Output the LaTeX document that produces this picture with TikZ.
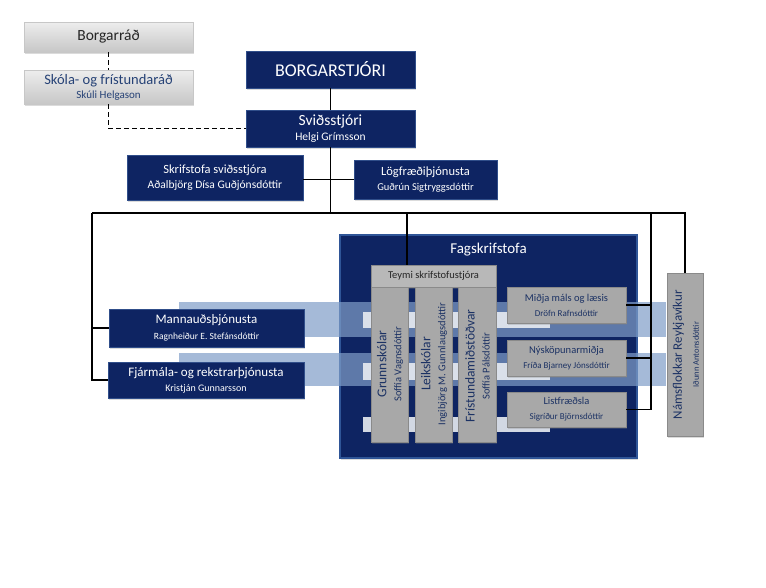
\documentclass[tikz,border=0pt]{standalone}
\usepackage{fontspec}
\setmainfont{Carlito}
\usetikzlibrary{shadows}
\definecolor{navy}{RGB}{14,36,98}
\definecolor{navyborder}{RGB}{48,78,138}
\definecolor{fagborder}{RGB}{47,85,151}
\definecolor{boxgray}{RGB}{168,168,168}
\definecolor{graybord}{RGB}{138,138,138}
\definecolor{bandblue}{RGB}{128,158,200}
\definecolor{graytext}{RGB}{28,50,100}
\definecolor{skolablue}{RGB}{38,66,118}
\definecolor{stripe}{RGB}{232,236,242}
\newcommand\fsz[1]{\fontsize{#1}{#1}\selectfont}
\tikzset{
  shd/.style={drop shadow={opacity=0.28, shadow xshift=1.2pt, shadow yshift=-2pt}},
  navybox/.style={draw=navyborder, line width=0.7pt, fill=navy, text=white,
    align=center, inner sep=0pt, shd},
  lightbox/.style={draw=white!78!black, line width=0.5pt, top color=white!93!black,
    bottom color=white!78!black, align=center, inner sep=0pt, shd},
  graybox/.style={draw=graybord, line width=0.6pt, fill=boxgray, text=graytext,
    align=center, inner sep=0pt, shd},
  conn/.style={draw=black, line width=1.1pt},
  dconn/.style={draw=black, line width=1.9pt, dash pattern=on 5pt off 3pt},
  band/.style={fill=bandblue, fill opacity=0.7, draw=none},
  stripebox/.style={fill=stripe, fill opacity=0.9, draw=none},
  coltext/.style={rotate=90, align=center, text=graytext, inner sep=0pt}
}
\begin{document}
\begin{tikzpicture}[x=1pt,y=-1pt]
\useasboundingbox[fill=white] (0,0) rectangle (766,587);

% top left council boxes
\node[lightbox, minimum width=169pt, minimum height=30pt, text=black!85] (borgarrad) at (108.5,37) {\fsz{15.5}Borgarráð};
\node[lightbox, minimum width=169pt, minimum height=34pt, text=skolablue] (skola) at (108.5,87)
  {\fsz{14.5}Skóla- og frístundaráð\\[2pt]\fsz{11}Skúli Helgason};

% top navy boxes
\node[navybox, minimum width=169pt, minimum height=37pt] (borgarstjori) at (330.5,69.5) {\fsz{18}BORGARSTJÓRI};
\node[navybox, minimum width=169pt, minimum height=37pt] (svid) at (330.5,128.5)
  {\fsz{15.5}Sviðsstjóri\\[3pt]\fsz{11.5}Helgi Grímsson};
\node[navybox, minimum width=176pt, minimum height=45pt] (skrif) at (215,177.5)
  {\fsz{12.5}Skrifstofa sviðsstjóra\\[2.5pt]\fsz{11.5}Aðalbjörg Dísa Guðjónsdóttir};
\node[navybox, minimum width=143pt, minimum height=39pt] (log) at (425.5,179.5)
  {\fsz{12.5}Lögfræðiþjónusta\\[2.5pt]\fsz{10.5}Guðrún Sigtryggsdóttir};

% Fagskrifstofa
\node[draw=fagborder, line width=1.6pt, fill=navy, inner sep=0pt, minimum width=297pt, minimum height=223pt, shd] (fag) at (488.5,346.5) {};
\node[text=white, inner sep=0pt] (fagtitle) at (488.5,250) {\fsz{15}Fagskrifstofa};

% bands and stripes
\path[band] (179,302) rectangle (666,337);
\path[band] (179,353) rectangle (666,386);
\path[stripebox] (363,312) rectangle (550,328);
\path[stripebox] (363,363) rectangle (550,380);
\path[stripebox] (363,417) rectangle (550,432);

% inner boxes
\node[graybox, fill=white!72!black, text=black!85, minimum width=125pt, minimum height=22pt] (teymi) at (433.5,276) {\fsz{10.5}Teymi skrifstofustjóra};
\node[graybox, minimum width=37pt, minimum height=155pt] (grunn) at (389.5,364.5) {};
\node[graybox, minimum width=37pt, minimum height=155pt] (leik) at (433.5,364.5) {};
\node[graybox, minimum width=38pt, minimum height=155pt] (fris) at (477,364.5) {};
\node[coltext] (grunnt) at (390,364) {\fsz{13.5}Grunnskólar\\[3pt]\fsz{10.5}Soffía Vagnsdóttir};
\node[coltext] (leikt) at (434,364) {\fsz{13.5}Leikskólar\\[3pt]\fsz{10.5}Ingibjörg M. Gunnlaugsdóttir};
\node[coltext] (frist) at (477.5,366) {\fsz{13.5}Frístundamiðstöðvar\\[3pt]\fsz{10.5}Soffía Pálsdóttir};

\node[graybox, minimum width=119pt, minimum height=36pt] (midja) at (566.5,305)
  {\fsz{10.5}Miðja máls og læsis\\[3pt]\fsz{9}Dröfn Rafnsdóttir};
\node[graybox, minimum width=119pt, minimum height=36pt] (nysk) at (566.5,358)
  {\fsz{10.5}Nýsköpunarmiðja\\[3pt]\fsz{9}Fríða Bjarney Jónsdóttir};
\node[graybox, minimum width=119pt, minimum height=35pt] (listf) at (566.5,409.5)
  {\fsz{10.5}Listfræðsla\\[3pt]\fsz{9}Sigríður Björnsdóttir};

\node[graybox, minimum width=36pt, minimum height=163pt] (nams) at (685,354.5) {};
\node[coltext] (namst) at (686,354.5) {\fsz{13}Námsflokkar Reykjavíkur\\[5pt]\fsz{8.5}Iðunn Antonsdóttir};

% left boxes
\node[navybox, minimum width=195pt, minimum height=38pt] (mann) at (206.5,328)
  {\fsz{13}Mannauðsþjónusta\\[3.5pt]\fsz{9.5}Ragnheiður E. Stefánsdóttir};
\node[navybox, minimum width=196pt, minimum height=36pt] (fjar) at (206,380)
  {\fsz{13}Fjármála- og rekstrarþjónusta\\[3pt]\fsz{10}Kristján Gunnarsson};

% coordinates
\coordinate (hb) at (svid.south |- 0,213);
\coordinate (hl) at (92,213);
\coordinate (hr) at (651,213);
\coordinate (hn) at (nams.north |- 0,213);
\coordinate (ht) at (407,213);

% dashed connectors
\draw[dconn] (borgarrad.south) -- (skola.north);
\draw[dconn] (skola.south) |- (svid.west);

% solid connectors
\draw[conn] (borgarstjori.south) -- (svid.north);
\draw[conn] (svid.south) -- (hb);
\draw[conn] (skrif.east |- log.west) -- (log.west);
\draw[conn] (hl) -- (hn) -- (nams.north);
\draw[conn] (hl) |- (fjar.west);
\draw[conn] (hl |- mann.west) -- (mann.west);
\draw[conn] (ht) -- (ht |- teymi.north);
\draw[conn] (hr) |- (listf.east);
\draw[conn] (hr |- midja.east) -- (midja.east);
\draw[conn] (hr |- nysk.east) -- (nysk.east);
\end{tikzpicture}
\end{document}
